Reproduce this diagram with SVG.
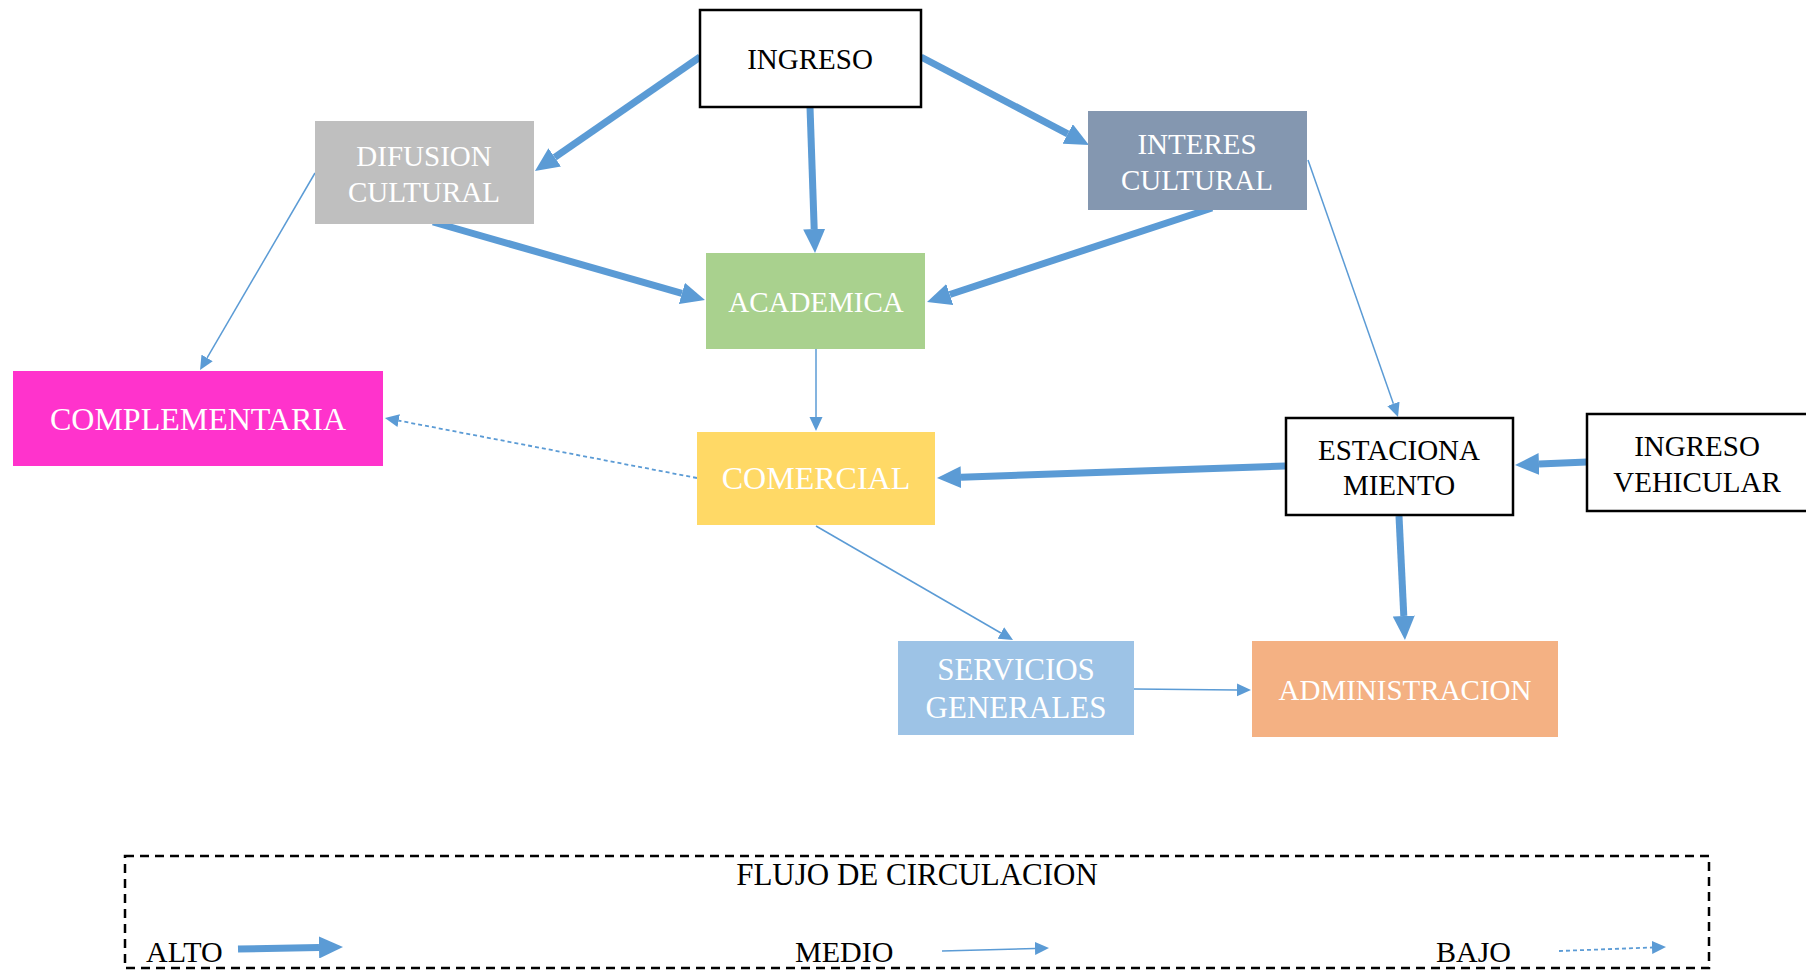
<svg xmlns="http://www.w3.org/2000/svg" width="1806" height="971" viewBox="0 0 1806 971">
<style>
text{font-family:"Liberation Serif","Times New Roman",serif;text-anchor:middle}
.w{fill:#ffffff}
.k{fill:#000000}
.bx{stroke:#000;stroke-width:2.5}
.hi{stroke:#5B9BD5;stroke-width:7;fill:none}
.md{stroke:#5B9BD5;stroke-width:1.5;fill:none}
.lo{stroke:#5B9BD5;stroke-width:1.8;fill:none;stroke-dasharray:4 3}
</style>
<defs>
<marker id="ah" markerUnits="userSpaceOnUse" markerWidth="24" markerHeight="22" refX="0" refY="11" orient="auto"><path d="M0,0 L24,11 L0,22 z" fill="#5B9BD5"/></marker>
<marker id="am" markerUnits="userSpaceOnUse" markerWidth="14" markerHeight="14" refX="0" refY="7" orient="auto"><path d="M0,0.5 L14,7 L0,13.5 z" fill="#5B9BD5"/></marker>
</defs>
<rect width="1806" height="971" fill="#ffffff"/>
<g id="connectors">
<line class="hi" x1="700" y1="57" x2="554.7" y2="157.4" marker-end="url(#ah)"/>
<line class="hi" x1="810" y1="107" x2="814.2" y2="229" marker-end="url(#ah)"/>
<line class="hi" x1="921" y1="57" x2="1067.7" y2="133.9" marker-end="url(#ah)"/>
<line class="hi" x1="433" y1="222" x2="681.9" y2="293.4" marker-end="url(#ah)"/>
<line class="hi" x1="1212" y1="208" x2="949.8" y2="294.5" marker-end="url(#ah)"/>
<line class="hi" x1="1285" y1="466" x2="961" y2="477.2" marker-end="url(#ah)"/>
<line class="hi" x1="1587" y1="462" x2="1539" y2="464" marker-end="url(#ah)"/>
<line class="hi" x1="1399" y1="516" x2="1403.8" y2="616" marker-end="url(#ah)"/>
<line class="md" x1="315" y1="173" x2="207.1" y2="357.9" marker-end="url(#am)"/>
<line class="md" x1="816" y1="349" x2="816" y2="417" marker-end="url(#am)"/>
<line class="md" x1="1308" y1="160" x2="1393.4" y2="403.8" marker-end="url(#am)"/>
<line class="md" x1="816" y1="526" x2="1000.9" y2="633" marker-end="url(#am)"/>
<line class="md" x1="1134" y1="689" x2="1237" y2="689.9" marker-end="url(#am)"/>
<line class="lo" x1="697" y1="478" x2="398.7" y2="420.6" marker-end="url(#am)"/>
</g>
<g id="ingreso"><rect class="bx" x="700" y="10" width="221" height="97" fill="#fff"/><text class="k" x="810" y="69" font-size="29">INGRESO</text></g>
<g id="difusion"><rect x="315" y="121" width="219" height="103" fill="#BFBFBF"/><text class="w" x="424" y="166" font-size="29">DIFUSION</text><text class="w" x="424" y="202" font-size="29">CULTURAL</text></g>
<g id="interes"><rect x="1088" y="111" width="219" height="99" fill="#8497B0"/><text class="w" x="1197" y="154" font-size="29">INTERES</text><text class="w" x="1197" y="190" font-size="29">CULTURAL</text></g>
<g id="academica"><rect x="706" y="253" width="219" height="96" fill="#A9D18E"/><text class="w" x="816" y="312" font-size="29">ACADEMICA</text></g>
<g id="complementaria"><rect x="13" y="371" width="370" height="95" fill="#FF33CC"/><text class="w" x="198" y="430" font-size="32">COMPLEMENTARIA</text></g>
<g id="comercial"><rect x="697" y="432" width="238" height="93" fill="#FFD966"/><text class="w" x="816" y="489" font-size="32">COMERCIAL</text></g>
<g id="estacionamiento"><rect class="bx" x="1286" y="418" width="227" height="97" fill="#fff"/><text class="k" x="1399" y="460" font-size="29">ESTACIONA</text><text class="k" x="1399" y="495" font-size="29">MIENTO</text></g>
<g id="ingreso-vehicular"><rect class="bx" x="1587" y="414" width="225" height="97" fill="#fff"/><text class="k" x="1697" y="456" font-size="29">INGRESO</text><text class="k" x="1697" y="492" font-size="29">VEHICULAR</text></g>
<g id="servicios"><rect x="898" y="641" width="236" height="94" fill="#9DC3E6"/><text class="w" x="1016" y="680" font-size="31">SERVICIOS</text><text class="w" x="1016" y="718" font-size="31">GENERALES</text></g>
<g id="administracion"><rect x="1252" y="641" width="306" height="96" fill="#F4B183"/><text class="w" x="1405" y="700" font-size="29">ADMINISTRACION</text></g>
<g id="legend">
<rect x="125" y="856" width="1584" height="112" fill="none" stroke="#000" stroke-width="2.5" stroke-dasharray="9 6"/>
<text class="k" x="917" y="885" font-size="31">FLUJO DE CIRCULACION</text>
<text class="k" x="146" y="962" font-size="30" style="text-anchor:start">ALTO</text>
<text class="k" x="795" y="962" font-size="30" style="text-anchor:start">MEDIO</text>
<text class="k" x="1436" y="962" font-size="30" style="text-anchor:start">BAJO</text>
<line class="hi" x1="238" y1="949" x2="319" y2="947.5" marker-end="url(#ah)"/>
<line class="md" x1="942" y1="951" x2="1035" y2="948.4" marker-end="url(#am)"/>
<line class="lo" x1="1559" y1="951" x2="1652" y2="947.5" marker-end="url(#am)"/>
</g>
</svg>
